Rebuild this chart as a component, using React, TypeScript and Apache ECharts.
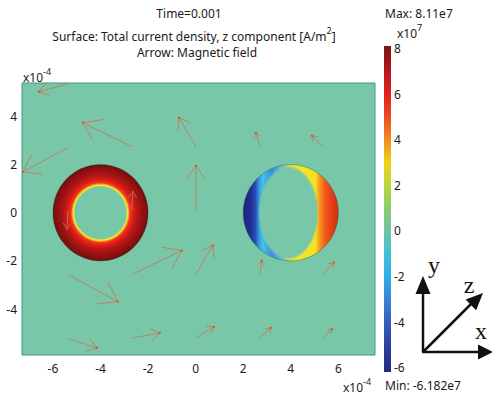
import React, { useEffect, useRef } from "react";
import * as echarts from "echarts";

// ---- axes (values in units of 1e-4 m) ----
const xTicks = [-6, -4, -2, 0, 2, 4, 6];
const yTicks = [-4, -2, 0, 2, 4];
const xMin = -7.3;
const xMax = 7.54;
const yMin = -5.91;
const yMax = 5.39;

// ---- colour bar (units of 1e7 A/m^2) ----
const cbTicks = [-6, -4, -2, 0, 2, 4, 6, 8];
const cbMin = -6.182;
const cbMax = 8.11;

// ---- conductors ----
const conductorKind = [0, 1]; // 0: ring-like current, 1: skin-effect crescents
const conductorX = [-4, 4];
const conductorY = [0, 0];
const conductorR = [2, 2];

// ---- magnetic field arrows: tail (x, y) and vector (u, v) ----
const arrowX = [-5.37, -5.37, -2.68, 0.01, 2.7, 5.35, -5.37, -2.68, 0.01, -5.37, -2.68, 0.01, 2.7, 5.35, -5.37, -2.64, 0.01, 2.7, 5.35];
const arrowY = [5.36, 2.7, 2.74, 2.74, 2.74, 2.74, 0.08, 0.08, 0.08, -2.57, -2.57, -2.57, -2.57, -2.57, -5.24, -5.2, -5.2, -5.2, -5.2];
const arrowU = [-1.22, -1.89, -2.06, -0.71, -0.17, -0.46, -0.04, 0.04, 0, 2.1, 2.1, 0.71, 0.08, 0.46, 1.22, 1.13, 0.76, 0.46, 0.38];
const arrowV = [-0.33, -1.0, 1.0, 1.21, 0.58, 0.46, -0.75, 0.79, 1.87, -1.12, 1.0, 1.21, 0.58, 0.5, -0.37, 0.21, 0.46, 0.42, 0.37];

const GREEN = "#79c7a9";
const FONT = "Noto Sans";

const cbStops = [
  [0, "#7a1214"],
  [0.0777, "#b51a1c"],
  [0.1476, "#e4201e"],
  [0.2176, "#ee4a20"],
  [0.2876, "#f28e22"],
  [0.3575, "#eed21c"],
  [0.4275, "#bcd63a"],
  [0.4975, "#8ccc6a"],
  [0.5675, "#6cc4a4"],
  [0.6374, "#42bfd6"],
  [0.7074, "#32aee8"],
  [0.7774, "#3a84d4"],
  [0.8474, "#3460b6"],
  [0.9173, "#2c429e"],
  [1, "#222a80"],
];

const ringStops = [
  [0, GREEN],
  [0.54, GREEN],
  [0.555, "#c8e050"],
  [0.57, "#f4ec2a"],
  [0.595, "#f89a22"],
  [0.62, "#f03a1c"],
  [0.68, "#e01e1a"],
  [0.76, "#bc1616"],
  [0.86, "#9a1212"],
  [0.95, "#850f0f"],
  [1, "#6a0c0c"],
];

const skinStops = [
  [0, "#1c2374"],
  [0.08, "#222f96"],
  [0.13, "#2a4fb4"],
  [0.17, "#3aa0e0"],
  [0.21, "#44c2ec"],
  [0.3, "#3a8fd8"],
  [0.38, "#48b8e4"],
  [0.43, "#7cc8b0"],
  [0.47, "#d6e040"],
  [0.55, "#f3e626"],
  [0.76, "#f4e024"],
  [0.8, "#f89a20"],
  [0.86, "#f05a1a"],
  [0.93, "#e43c16"],
  [1, "#d03010"],
];

const toStops = (s: any[]) => s.map(([offset, color]) => ({ offset, color }));

const supRich = {
  n: { fontSize: 12, lineHeight: 16, verticalAlign: "bottom", fontFamily: FONT, fill: "#1a1a1a" },
  s: { fontSize: 9, lineHeight: 16, verticalAlign: "top", fontFamily: FONT, fill: "#1a1a1a" },
};

export default function App() {
  const ref = useRef<HTMLDivElement>(null);
  useEffect(() => {
    if (!ref.current) return;
    const chart = echarts.init(ref.current, null, { renderer: "svg" });
    const ARROW = "rgba(196,120,86,0.85)";

    const option: any = {
      animation: false,
      grid: [
        { left: 22, top: 83, width: 353, height: 272, show: true, backgroundColor: GREEN, borderColor: "#3c9a7c", borderWidth: 1 },
        { left: 384, top: 46, width: 7, height: 326 },
      ],
      xAxis: [
        {
          gridIndex: 0, type: "value", min: xMin, max: xMax,
          axisLine: { show: false }, axisTick: { show: false }, splitLine: { show: false },
          axisLabel: { customValues: xTicks, margin: 7, fontSize: 12, fontFamily: FONT, color: "#1a1a1a" },
        },
        { gridIndex: 1, type: "value", min: 0, max: 1, show: false },
      ],
      yAxis: [
        {
          gridIndex: 0, type: "value", min: yMin, max: yMax,
          axisLine: { show: false }, axisTick: { show: false }, splitLine: { show: false },
          axisLabel: { customValues: yTicks, margin: 5, fontSize: 12, fontFamily: FONT, color: "#1a1a1a" },
        },
        {
          gridIndex: 1, type: "value", min: cbMin, max: cbMax, position: "right",
          axisLine: { show: false }, axisTick: { show: false }, splitLine: { show: false },
          axisLabel: { customValues: cbTicks, margin: 3, fontSize: 12, fontFamily: FONT, color: "#1a1a1a" },
        },
      ],
      series: [
        {
          type: "custom",
          name: "conductors",
          xAxisIndex: 0, yAxisIndex: 0,
          data: conductorX.map((x, i) => [x, conductorY[i], conductorR[i], conductorKind[i]]),
          renderItem: (params: any, api: any) => {
            const c = api.coord([api.value(0), api.value(1)]);
            const s = api.size([api.value(2), api.value(2)]);
            const rx = s[0], ry = s[1];
            const kind = api.value(3);
            const edge = { stroke: "rgba(30,70,55,0.55)", lineWidth: 0.7 };
            if (kind === 0) {
              return {
                type: "ellipse",
                shape: { cx: c[0], cy: c[1], rx, ry },
                style: { fill: { type: "radial", x: 0.5, y: 0.5, r: 0.5, colorStops: toStops(ringStops) }, ...edge },
              };
            }
            return {
              type: "group",
              children: [
                {
                  type: "ellipse",
                  shape: { cx: c[0], cy: c[1], rx, ry },
                  style: { fill: { type: "linear", x: 0, y: 0, x2: 1, y2: 0, colorStops: toStops(skinStops) }, ...edge },
                },
                {
                  type: "ellipse",
                  shape: { cx: c[0] - rx * 0.05, cy: c[1], rx: rx * 0.64, ry: ry * 0.985 },
                  style: {
                    fill: {
                      type: "radial", x: 0.5, y: 0.5, r: 0.5,
                      colorStops: [
                        { offset: 0, color: GREEN },
                        { offset: 0.93, color: GREEN },
                        { offset: 1, color: "rgba(121,199,169,0)" },
                      ],
                    },
                  },
                },
              ],
            };
          },
          z: 2,
        },
        {
          type: "custom",
          name: "field",
          xAxisIndex: 0, yAxisIndex: 0,
          data: arrowX.map((x, i) => [x, arrowY[i], arrowU[i], arrowV[i]]),
          renderItem: (params: any, api: any) => {
            const x = api.value(0), y = api.value(1), u = api.value(2), v = api.value(3);
            const p0 = api.coord([x, y]);
            const p1 = api.coord([x + u, y + v]);
            const dx = p1[0] - p0[0], dy = p1[1] - p0[1];
            const len = Math.hypot(dx, dy) || 1;
            const hl = len * 0.38;
            const a = (35 * Math.PI) / 180;
            const bx = -dx / len, by = -dy / len;
            const rot = (t: number) => [
              p1[0] + hl * (bx * Math.cos(t) - by * Math.sin(t)),
              p1[1] + hl * (bx * Math.sin(t) + by * Math.cos(t)),
            ];
            return {
              type: "group",
              children: [
                { type: "line", shape: { x1: p0[0], y1: p0[1], x2: p1[0], y2: p1[1] }, style: { stroke: ARROW, lineWidth: 1, fill: "none" } },
                { type: "polyline", shape: { points: [rot(a), p1, rot(-a)] }, style: { stroke: ARROW, lineWidth: 1, fill: "none" } },
                { type: "circle", shape: { cx: p1[0], cy: p1[1], r: 1 }, style: { fill: "#e2452c", stroke: "none" } },
              ],
            };
          },
          z: 3,
        },
        {
          type: "custom",
          name: "colorbar",
          xAxisIndex: 1, yAxisIndex: 1,
          data: [[0, cbMin, 1, cbMax]],
          renderItem: (params: any, api: any) => {
            const pTop = api.coord([api.value(0), api.value(3)]);
            const pBot = api.coord([api.value(2), api.value(1)]);
            return {
              type: "rect",
              shape: { x: pTop[0], y: pTop[1], width: pBot[0] - pTop[0], height: pBot[1] - pTop[1] },
              style: { fill: { type: "linear", x: 0, y: 0, x2: 0, y2: 1, colorStops: toStops(cbStops) } },
            };
          },
        },
      ],
      graphic: [
        { type: "text", x: 189, y: 13, style: { text: "Time=0.001", font: `12px '${FONT}'`, fill: "#1a1a1a", align: "center", verticalAlign: "middle" } },
        {
          type: "text", x: 194, y: 34,
          style: { text: "{n|Surface: Total current density, z component [A/m}{s|2}{n|]}", rich: supRich, align: "center", verticalAlign: "middle" },
        },
        { type: "text", x: 197, y: 52, style: { text: "Arrow: Magnetic field", font: `12px '${FONT}'`, fill: "#1a1a1a", align: "center", verticalAlign: "middle" } },
        { type: "text", x: 385, y: 13, style: { text: "Max: 8.11e7", font: `12px '${FONT}'`, fill: "#1a1a1a", align: "left", verticalAlign: "middle" } },
        { type: "text", x: 385, y: 385, style: { text: "Min: -6.182e7", font: `12px '${FONT}'`, fill: "#1a1a1a", align: "left", verticalAlign: "middle" } },
        { type: "text", x: 397, y: 31, style: { text: "{n|x10}{s|7}", rich: supRich, align: "left", verticalAlign: "middle" } },
        { type: "text", x: 23, y: 75, style: { text: "{n|x10}{s|-4}", rich: supRich, align: "left", verticalAlign: "middle" } },
        { type: "text", x: 343, y: 385, style: { text: "{n|x10}{s|-4}", rich: supRich, align: "left", verticalAlign: "middle" } },
        // axis triad
        { type: "line", shape: { x1: 423, y1: 352, x2: 423, y2: 290 }, style: { stroke: "#111", lineWidth: 2.5 } },
        { type: "polygon", shape: { points: [[423, 276], [415.5, 294], [430.5, 294]] }, style: { fill: "#111" } },
        { type: "line", shape: { x1: 422, y1: 352, x2: 480, y2: 352 }, style: { stroke: "#111", lineWidth: 2.5 } },
        { type: "polygon", shape: { points: [[493, 352], [478, 344.5], [478, 359.5]] }, style: { fill: "#111" } },
        { type: "line", shape: { x1: 423, y1: 352, x2: 473, y2: 302 }, style: { stroke: "#111", lineWidth: 2.5 } },
        { type: "polygon", shape: { points: [[483, 293], [476.1, 310.2], [465.6, 299.6]] }, style: { fill: "#111" } },
        { type: "text", x: 434, y: 265, style: { text: "y", font: "24px 'Liberation Serif'", fill: "#111", align: "center", verticalAlign: "middle" } },
        { type: "text", x: 469, y: 285, style: { text: "z", font: "24px 'Liberation Serif'", fill: "#111", align: "center", verticalAlign: "middle" } },
        { type: "text", x: 481, y: 331, style: { text: "x", font: "24px 'Liberation Serif'", fill: "#111", align: "center", verticalAlign: "middle" } },
      ],
    };
    chart.setOption(option);
    return () => chart.dispose();
  }, []);
  return <div ref={ref} style={{ position: "fixed", left: 0, top: 0, width: 492, height: 397, background: "#fff" }} />;
}
